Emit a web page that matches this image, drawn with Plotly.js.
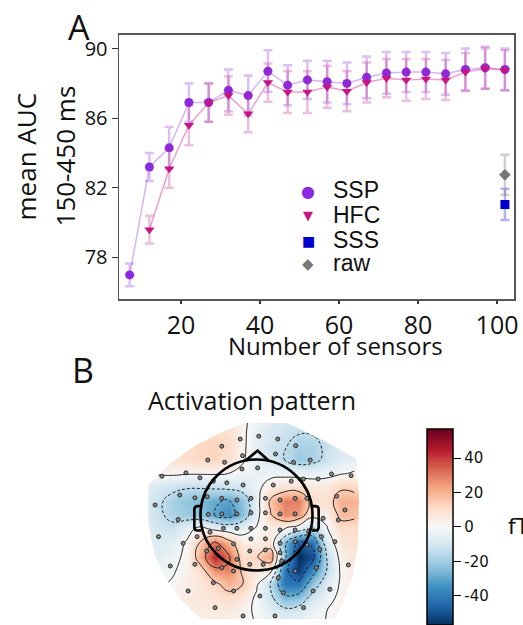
<!DOCTYPE html>
<html><head><meta charset="utf-8">
<script src="https://cdn.plot.ly/plotly-3.0.1.min.js"></script>
<style>html,body{margin:0;padding:0;background:#fff;} #chart{width:523px;height:625px;}</style>
</head><body><div id="chart"></div>
<script>
// ---------- Panel A data ----------
const nSensors = [7,12,17,22,27,32,37,42,47,52,57,62,67,72,77,82,87,92,97,102];
const sspAUC = [77.0,83.2,84.3,86.9,86.9,87.6,87.3,88.7,87.9,88.2,88.1,88.0,88.35,88.6,88.65,88.65,88.55,88.8,88.9,88.8];
const sspErr = [0.65,0.8,1.2,1.1,1.1,1.2,1.15,1.2,1.15,1.1,1.2,1.2,1.2,1.2,1.15,1.15,1.2,1.2,1.2,1.2];
const hfcSensors = [12,17,22,27,32,37,42,47,52,57,62,67,72,77,82,87,92,97,102];
const hfcAUC = [79.6,83.1,85.6,86.9,87.3,86.25,88.05,87.5,87.5,87.8,87.55,88.05,88.3,88.2,88.25,88.2,88.65,88.85,88.75];
const hfcErr = [0.8,1.1,1.15,1.1,1.1,1.05,1.1,1.2,1.2,1.2,1.15,1.15,1.1,1.2,1.15,1.15,1.1,1.15,1.15];
const sssSensors = [102];
const sssAUC = [81.05];
const sssErr = [0.9];
const rawSensors = [102];
const rawAUC = [82.75];
const rawErr = [1.15];
const xTicks = [20,40,60,80,100];
const yTicks = [78,82,86,90];
const legendLabels = ['SSP','HFC','SSS','raw'];

// ---------- Panel B data (head units, radius 1) ----------
const gridX = [-2,-1.75,-1.5,-1.25,-1,-0.75,-0.5,-0.25,0,0.25,0.5,0.75,1,1.25,1.5,1.75];
const gridY = [-2,-1.75,-1.5,-1.25,-1,-0.75,-0.5,-0.25,0,0.25,0.5,0.75,1,1.25,1.5,1.75];
// rows from bottom (y=-2) to top (y=1.75), values in fT
const activation = [
  [2,2,3,3,3,3,3,1,0,-3,-6,-5,-1,0,2,3],
  [2,2,3,4,5,5,5,2,-1,-6,-10,-8,-3,0,3,4],
  [2,3,4,5,6,8,10,7,-2,-12,-26,-24,-10,-3,2,4],
  [0,-1,1,4,7,12,20,15,2,-16,-42,-42,-22,-8,1,4],
  [-3,-4,-1,3,10,26,28,13,6,4,-42,-54,-36,-15,1,5],
  [-4,-6,-3,2,22,44,32,9,14,24,-26,-58,-50,-15,3,7],
  [-5,-8,-6,1,16,32,20,5,4,8,-27,-48,-42,-8,7,9],
  [-7,-11,-12,-5,4,-3,-6,-4,1,4,0,-8,-17,-1,10,10],
  [-8,-13,-18,-21,-24,-30,-35,-24,-4,14,27,24,4,3,18,17],
  [-9,-13,-19,-23,-25,-29,-31,-23,-5,17,29,29,10,9,21,20],
  [-6,-9,-12,-14,-14,-13,-12,-10,-3,5,8,9,6,6,13,12],
  [-1,1,2,1,1,1,0,-2,-4,-3,-3,-4,-4,-3,-1,1],
  [4,6,8,10,12,12,9,1,-5,-10,-15,-21,-19,-12,-7,-5],
  [6,7,9,11,12,13,11,2,-6,-12,-14,-19,-18,-13,-9,-7],
  [6,7,9,11,11,11,9,2,-5,-9,-12,-14,-14,-12,-9,-7],
  [5,6,8,9,9,9,7,2,-3,-7,-9,-10,-10,-9,-7,-6]
];
const sensorX = [0.04,0.38,-0.29,0.70,-0.62,-0.87,-0.57,-0.25,0.34,0.66,0.96,-1.69,-1.26,-1.01,-0.77,-0.53,-0.24,0.02,-0.26,0.30,0.62,0.84,1.10,1.34,1.69,-1.37,-1.10,-1.81,-1.40,-0.88,-0.62,-0.35,-0.10,0.16,0.42,0.69,0.90,1.43,1.58,-0.86,-0.62,-0.35,-0.10,0.16,0.42,0.69,1.19,1.46,-1.06,-0.83,-0.59,-0.35,-0.10,0.16,0.42,0.69,0.93,1.16,1.40,-1.75,-1.31,-0.89,-0.68,-0.41,-0.10,0.16,0.42,0.69,0.90,1.13,-0.62,-0.35,-0.12,0.16,0.42,0.72,-1.54,-1.10,-0.41,-0.12,0.12,0.45,0.69,1.07,1.64,-1.22,-0.77,-0.41,0.06,0.39,0.48,1.01,1.31,-0.74,-0.24,0.33,0.84];
const sensorY = [1.42,1.37,1.37,1.25,1.24,0.99,0.95,1.07,1.10,0.95,0.99,0.70,0.76,0.67,0.61,0.58,0.54,0.85,0.83,0.54,0.61,0.65,0.65,0.74,0.71,0.36,0.31,0.18,-0.08,0.33,0.30,0.27,0.30,0.30,0.27,0.30,0.30,0.34,0.09,0.01,0.02,0.02,0.04,0.04,0.02,0.02,-0.06,-0.09,-0.39,-0.31,-0.24,-0.24,-0.24,-0.24,-0.27,-0.27,-0.30,-0.39,-0.48,-0.39,-0.51,-0.65,-0.60,-0.52,-0.43,-0.43,-0.51,-0.48,-0.54,-0.62,-0.95,-0.80,-0.65,-0.63,-0.68,-0.68,-0.92,-0.89,-1.01,-0.89,-0.89,-0.83,-1.01,-0.95,-0.90,-1.37,-1.22,-1.37,-1.46,-1.13,-1.40,-1.37,-1.34,-1.67,-1.82,-1.82,-1.67];
const cbTicks = [-40,-20,0,20,40];
const cbLabels = ['-40','-20','0','20','40'];

// ---------- helpers ----------
const W = 523, H = 625;
const px = v => v / W;
const py = v => 1 - v / H;
const HX = 256.5, HY = 520, R = 56; // head centre/radius in pixels

const rdbu_r = [
  [0.0,'#053061'],[0.1,'#2166ac'],[0.2,'#4393c3'],[0.3,'#92c5de'],[0.4,'#d1e5f0'],
  [0.5,'#f7f7f7'],[0.6,'#fddbc7'],[0.7,'#f4a582'],[0.8,'#d6604d'],[0.9,'#b2182b'],[1.0,'#67001f']
];

const traces = [
  { x: nSensors, y: sspAUC, name: 'SSP', type: 'scatter', mode: 'lines+markers',
    line: {color: 'rgba(138,43,226,0.35)', width: 1.5},
    marker: {symbol: 'circle', size: 9, color: '#8a2be2'},
    error_y: {type: 'data', array: sspErr, visible: true, color: 'rgba(138,43,226,0.3)', thickness: 2.5, width: 4.5} },
  { x: hfcSensors, y: hfcAUC, name: 'HFC', type: 'scatter', mode: 'lines+markers',
    line: {color: 'rgba(199,21,133,0.4)', width: 1.5},
    marker: {symbol: 'triangle-down', size: 9, color: '#c71585'},
    error_y: {type: 'data', array: hfcErr, visible: true, color: 'rgba(199,21,133,0.28)', thickness: 2.5, width: 4.5} },
  { x: sssSensors, y: sssAUC, name: 'SSS', type: 'scatter', mode: 'markers',
    marker: {symbol: 'square', size: 9, color: '#0000cd'},
    error_y: {type: 'data', array: sssErr, visible: true, color: 'rgba(0,0,205,0.3)', thickness: 2.5, width: 4.5} },
  { x: rawSensors, y: rawAUC, name: 'raw', type: 'scatter', mode: 'markers',
    marker: {symbol: 'diamond', size: 9, color: '#777777'},
    error_y: {type: 'data', array: rawErr, visible: true, color: 'rgba(119,119,119,0.35)', thickness: 2.5, width: 4.5} },
  { type: 'heatmap', x: gridX, y: gridY, z: activation, xaxis: 'x2', yaxis: 'y2',
    zsmooth: 'best', colorscale: rdbu_r, zmin: -57, zmax: 57, hoverinfo: 'skip',
    colorbar: {thickness: 26, thicknessmode: 'pixels', len: 196, lenmode: 'pixels',
      x: px(427), xanchor: 'left', y: py(532), yanchor: 'middle',
      outlinewidth: 1.5, outlinecolor: '#000', borderwidth: 0, xpad: 0, ypad: 0,
      tickvals: cbTicks, ticktext: cbLabels, ticks: 'outside', ticklen: 8, tickwidth: 1.2, tickcolor: '#000',
      tickfont: {family: 'DejaVu Sans', size: 15, color: '#111'}} },
  { type: 'contour', x: gridX, y: gridY, z: activation, xaxis: 'x2', yaxis: 'y2',
    autocontour: false, contours: {start: -45, end: -15, size: 15, coloring: 'none'},
    line: {color: '#111', width: 0.9, dash: '3px,2px', smoothing: 1.3},
    showscale: false, hoverinfo: 'skip' },
  { type: 'contour', x: gridX, y: gridY, z: activation, xaxis: 'x2', yaxis: 'y2',
    autocontour: false, contours: {start: 0, end: 45, size: 15, coloring: 'none'},
    line: {color: '#111', width: 0.9, smoothing: 1.3},
    showscale: false, hoverinfo: 'skip' },
  { type: 'scatter', mode: 'markers', x: sensorX, y: sensorY, xaxis: 'x2', yaxis: 'y2',
    marker: {size: 4, color: '#8a8a8a', line: {color: '#1a1a1a', width: 0.9}}, hoverinfo: 'skip' }
];

// hull mask (white outside the interpolated area)
const hull = [[-1.93,0.55],[-1.55,0.92],[-1.1,1.25],[-0.6,1.5],[-0.2,1.66],[0.55,1.66],[1.2,1.34],[1.78,1.02],
  [1.83,0.3],[1.81,-0.5],[1.72,-1.1],[1.55,-1.55],[1.35,-2.0],[-0.85,-2.0],[-1.3,-1.58],[-1.62,-1.15],[-1.82,-0.72],[-1.93,-0.15]];
const maskPath = 'M -3 -3 L 3 -3 L 3 3 L -3 3 Z M ' + hull.map(p => p[0] + ' ' + p[1]).join(' L ') + ' Z';

const headLine = {color: '#000', width: 2.6};
const shapes = [
  {type: 'path', xref: 'x2', yref: 'y2', path: maskPath, fillcolor: '#ffffff', fillrule: 'evenodd', line: {width: 0}, layer: 'above'},
  {type: 'circle', xref: 'x2', yref: 'y2', x0: -1, x1: 1, y0: -1, y1: 1, line: headLine, layer: 'above'},
  {type: 'path', xref: 'x2', yref: 'y2', path: 'M -0.2 0.98 L 0.02 1.16 L 0.22 0.98', line: headLine, layer: 'above'},
  {type: 'path', xref: 'x2', yref: 'y2', path: 'M -0.99 0.16 L -1.05 0.16 Q -1.11 0.16 -1.11 0.1 L -1.11 -0.22 Q -1.11 -0.28 -1.05 -0.28 L -0.99 -0.28', line: headLine, layer: 'above'},
  {type: 'path', xref: 'x2', yref: 'y2', path: 'M 0.99 0.16 L 1.05 0.16 Q 1.11 0.16 1.11 0.1 L 1.11 -0.22 Q 1.11 -0.28 1.05 -0.28 L 0.99 -0.28', line: headLine, layer: 'above'}
];

const txt = '#111';
const ann = (text, x, y, opts) => Object.assign({text, x: px(x), y: py(y), xref: 'paper', yref: 'paper', showarrow: false,
  xanchor: 'center', yanchor: 'middle'}, opts);
const legendSymbols = ['\u25CF','\u25BC','\u25A0','\u25C6'];
const legendColors = ['#8a2be2','#c71585','#0000cd','#777777'];
const legendSizes = [16, 13, 14, 15];
const legendY = [192, 217, 242, 266];
const annotations = [
  ann('A', 66, 27, {xanchor: 'left', font: {family: 'Open Sans', size: 34, color: txt}}),
  ann('B', 70, 374, {xanchor: 'left', font: {family: 'Open Sans', size: 34, color: txt}}),
  ann('mean AUC', 26, 158, {textangle: -90, font: {family: 'Open Sans', size: 26, color: txt}}),
  ann('150-450 ms', 65, 158, {textangle: -90, font: {family: 'Open Sans', size: 26, color: txt}}),
  ann('Number of sensors', 335, 349, {borderpad: 0, font: {family: 'Open Sans', size: 24, color: txt}}),
  ann('Activation pattern', 252, 404, {font: {family: 'Open Sans', size: 25, color: txt}}),
  ann('fT', 506, 532, {xanchor: 'left', font: {family: 'DejaVu Sans', size: 22, color: txt}})
];
legendLabels.forEach((lab, i) => {
  annotations.push(ann(legendSymbols[i], 308, legendY[i] + 1, {font: {family: 'DejaVu Sans', size: legendSizes[i], color: legendColors[i]}}));
  annotations.push(ann(lab, 331, legendY[i], {xanchor: 'left', font: {family: 'Liberation Sans', size: 23, color: txt}}));
});

const layout = {
  width: W, height: H, margin: {l: 0, r: 0, t: 0, b: 0},
  paper_bgcolor: '#fff', plot_bgcolor: '#fff', showlegend: false,
  xaxis: {domain: [px(119), px(514)], range: [4.3, 104.3], anchor: 'y',
    tickvals: xTicks, ticks: 'outside', ticklen: 3, tickwidth: 1.2, tickcolor: '#333',
    showline: true, mirror: true, linecolor: '#555', linewidth: 1.5, showgrid: false, zeroline: false,
    tickfont: {family: 'Open Sans', size: 25, color: txt}},
  yaxis: {domain: [py(302), py(35)], range: [75.61, 90.8], anchor: 'x',
    tickvals: yTicks, ticks: 'outside', ticklen: 6, tickwidth: 1.2, tickcolor: '#333',
    showline: true, mirror: true, linecolor: '#555', linewidth: 1.5, showgrid: false, zeroline: false,
    tickfont: {family: 'Open Sans', size: 20, color: txt}},
  xaxis2: {domain: [px(140), px(365)], range: [(140 - HX) / R, (365 - HX) / R], anchor: 'y2', visible: false},
  yaxis2: {domain: [0, py(420)], range: [(HY - 625) / R, (HY - 420) / R], anchor: 'x2', visible: false},
  shapes, annotations
};

Plotly.newPlot('chart', traces, layout, {displayModeBar: false, staticPlot: true});
</script>
</body></html>
